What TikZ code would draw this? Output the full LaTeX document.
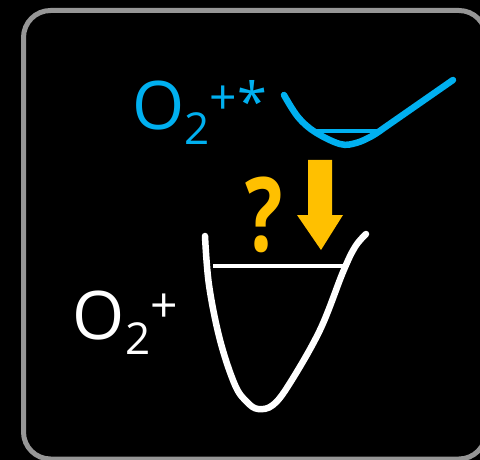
\documentclass[tikz,border=0pt]{standalone}
\usepackage{fontspec}
\setmainfont{Open Sans}
\definecolor{oblue}{RGB}{0,176,240}
\definecolor{oyellow}{RGB}{255,192,0}
\definecolor{frame}{RGB}{150,150,150}
\newcommand{\fs}[1]{\fontsize{#1}{#1}\selectfont}
\tikzset{
  txt/.style={inner sep=0pt, outer sep=0pt},
  curve/.style={line width=6.5pt, line cap=round, line join=round},
  level/.style={line width=4pt}
}
\begin{document}
\begin{tikzpicture}[x=1pt,y=-1pt]
\useasboundingbox (0,0) rectangle (480,460);
\fill[black] (0,0) rectangle (480,460);
\draw[frame, line width=5pt, rounded corners=27pt] (23.5,10.5) rectangle (486,459);
% blue label
\node[txt, text=oblue, anchor=base west] (blabel) at (132.3,129.5)
  {{\fs{67}O}\raisebox{-15.5pt}{\fs{44}2}\raisebox{15.1pt}{\fs{48}+}\raisebox{7.8pt}{\fs{54}*}};
% white label
\node[txt, text=white, anchor=base west] (wlabel) at (72.9,339)
  {{\fs{67}O}\raisebox{-15.5pt}{\fs{44}2}\raisebox{16.1pt}{\fs{48}+}};
% upper curve
\draw[oblue, curve] plot[smooth, tension=0.6] coordinates {(284,95) (298,117) (315,132) (340,144) (356,143) (372,136) (384,128)} -- (453,80);
\draw[oblue, level] (312,131) -- (382,131);
% lower curve
\draw[white, curve] plot[smooth, tension=0.6] coordinates {(205,236) (209,285) (220,340) (235,385) (247,402) (258,409) (273,405) (290,383) (320,330) (343,272) (355,247) (366,234)};
\draw[white, level] (213,266) -- (343,266);
% arrow
\fill[oyellow] (308,160) -- (332,160) -- (332,215) -- (343,215) -- (321,250) -- (297,215) -- (308,215) -- cycle;
% question mark
\node[txt, text=oyellow, font=\fs{103}\bfseries, xscale=0.76] (q) at (264.5,214.5) {?};
\end{tikzpicture}
\end{document}
